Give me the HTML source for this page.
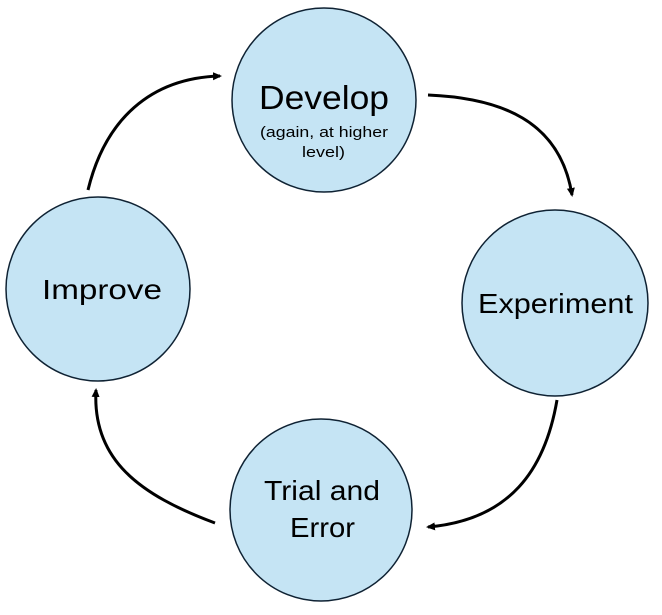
<!DOCTYPE html>
<html><head><meta charset="utf-8"><style>
html,body{margin:0;padding:0;background:#fff;}
svg{display:block;}
text{font-family:"Liberation Sans",sans-serif;fill:#000;}
</style></head><body>
<svg width="662" height="615" viewBox="0 0 662 615" xmlns="http://www.w3.org/2000/svg">
<defs>
<marker id="a" markerWidth="10" markerHeight="10" refX="7" refY="5" orient="auto" markerUnits="userSpaceOnUse">
<path d="M0,1 L9,5 L0,9 Z" fill="#000"/>
</marker>
</defs>
<g fill="#c5e4f4" stroke="#0f2233" stroke-width="1.5">
<circle cx="324" cy="100" r="92"/>
<circle cx="555" cy="303" r="93"/>
<circle cx="321" cy="510" r="91"/>
<circle cx="98" cy="289" r="92"/>
</g>
<g fill="none" stroke="#000" stroke-width="3">
<path d="M88,190 C105,120 150,78 220,76" marker-end="url(#a)"/>
<path d="M428,95 C500,98 560,120 572,195" marker-end="url(#a)"/>
<path d="M557,400 C545,470 510,520 428,527" marker-end="url(#a)"/>
<path d="M215,523 C140,495 92,460 96,390" marker-end="url(#a)"/>
</g>
<text x="259" y="109" font-size="33" textLength="130" lengthAdjust="spacingAndGlyphs">Develop</text>
<text x="260" y="137" font-size="15" textLength="128" lengthAdjust="spacingAndGlyphs">(again, at higher</text>
<text x="302" y="157" font-size="15" textLength="43" lengthAdjust="spacingAndGlyphs">level)</text>
<text x="478" y="313" font-size="28" textLength="155" lengthAdjust="spacingAndGlyphs">Experiment</text>
<text x="264" y="500" font-size="28" textLength="116" lengthAdjust="spacingAndGlyphs">Trial and</text>
<text x="290" y="537" font-size="28" textLength="65" lengthAdjust="spacingAndGlyphs">Error</text>
<text x="42" y="299" font-size="28" textLength="120" lengthAdjust="spacingAndGlyphs">Improve</text>
</svg>
</body></html>
